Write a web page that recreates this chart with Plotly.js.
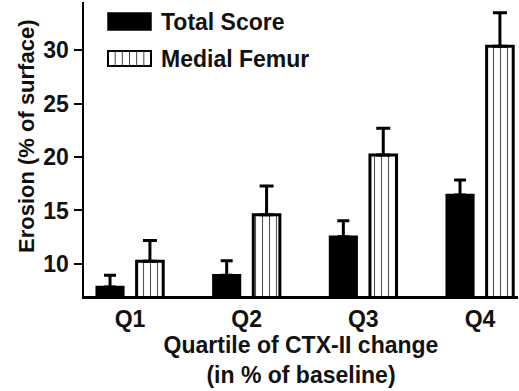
<!DOCTYPE html>
<html>
<head>
<meta charset="utf-8">
<script src="https://cdn.plot.ly/plotly-3.0.1.min.js"></script>
<style>html,body{margin:0;padding:0;background:#fff;}#chart{width:519px;height:391px;}</style>
</head>
<body>
<div id="chart"></div>
<script>
const categories = ['Q1', 'Q2', 'Q3', 'Q4'];
const seriesNames = ['Total Score', 'Medial Femur'];
const totalScore = [7.85, 8.95, 12.55, 16.45];
const totalErr = [1.1, 1.35, 1.5, 1.4];
const medialFemur = [10.25, 14.6, 20.2, 30.35];
const medialErr = [1.95, 2.7, 2.5, 3.15];
const yTicks = [10, 15, 20, 25, 30];
const xTitle = 'Quartile of CTX-II change<br>(in % of baseline)';
const yTitle = 'Erosion (% of surface)';

const FONT = 'Liberation Sans, Arial, Helvetica, sans-serif';
const TXT = '#111';

const traces = [
  {
    type: 'bar', name: seriesNames[0], x: categories, y: totalScore,
    width: 0.228, offset: -0.285, showlegend: false,
    marker: {color: '#000', line: {color: '#000', width: 2.5}},
    error_y: {type: 'data', array: totalErr, symmetric: false, arrayminus: [0,0,0,0], color: '#000', thickness: 3, width: 6}
  },
  {
    type: 'bar', name: seriesNames[1], x: categories, y: medialFemur,
    width: 0.228, offset: 0.057, showlegend: false,
    marker: {color: '#fff', line: {color: '#000', width: 3},
      pattern: {shape: '|', size: 7, solidity: 0.16, fgcolor: '#555', bgcolor: '#fff'}},
    error_y: {type: 'data', array: medialErr, symmetric: false, arrayminus: [0,0,0,0], color: '#000', thickness: 3, width: 7}
  }
];

const W = 519, H = 391, ml = 84, mr = 1, mt = 2, mb = 95;
const pw = W - ml - mr, ph = H - mt - mb;
const px = x => (x - ml) / pw;
const py = y => 1 - (y - mt) / ph;

const shapes = [
  {type: 'rect', xref: 'paper', yref: 'paper', x0: px(108), x1: px(151), y0: py(30), y1: py(13), fillcolor: '#000', line: {color: '#000', width: 1.5}},
  {type: 'rect', xref: 'paper', yref: 'paper', x0: px(108), x1: px(151), y0: py(66), y1: py(51), fillcolor: '#fff', line: {color: '#000', width: 2}}
];
for (let i = 1; i <= 5; i++) {
  const xx = 108 + i * 43 / 6;
  shapes.push({type: 'line', xref: 'paper', yref: 'paper', x0: px(xx), x1: px(xx), y0: py(66), y1: py(51), line: {color: '#444', width: 1}});
}

const annotations = [
  {xref: 'paper', yref: 'paper', x: px(159), y: py(21.5), xanchor: 'left', yanchor: 'middle', showarrow: false,
   text: seriesNames[0], font: {family: FONT, size: 23, weight: 'bold', color: TXT}},
  {xref: 'paper', yref: 'paper', x: px(159), y: py(58.5), xanchor: 'left', yanchor: 'middle', showarrow: false,
   text: seriesNames[1], font: {family: FONT, size: 23, weight: 'bold', color: TXT}},
  {xref: 'paper', yref: 'paper', x: px(26), y: py(137), xanchor: 'center', yanchor: 'middle', showarrow: false,
   textangle: -90, text: yTitle, font: {family: FONT, size: 22, weight: 'bold', color: TXT}}
];

const layout = {
  width: W, height: H,
  margin: {l: ml, r: mr, t: mt, b: mb, pad: 0},
  paper_bgcolor: '#fff', plot_bgcolor: '#fff',
  barmode: 'group',
  showlegend: false,
  font: {family: FONT, size: 23, weight: 'bold', color: TXT},
  xaxis: {
    type: 'category', range: [-0.394, 3.326],
    showline: true, linecolor: '#000', linewidth: 2.5,
    ticks: '', showgrid: false, zeroline: false,
    ticklabelstandoff: 1,
    tickfont: {family: FONT, size: 23, weight: 'bold', color: TXT},
    title: {text: xTitle, standoff: 2,
      font: {family: FONT, size: 23, weight: 'bold', color: TXT}}
  },
  yaxis: {
    range: [7, 34.5], tickvals: yTicks, ticktext: yTicks.map(String),
    showline: true, linecolor: '#000', linewidth: 2.5,
    ticks: 'outside', ticklen: 8, tickwidth: 2, tickcolor: '#000',
    showgrid: false, zeroline: false,
    tickfont: {family: FONT, size: 23, weight: 'bold', color: TXT}
  },
  shapes: shapes,
  annotations: annotations
};

Plotly.newPlot('chart', traces, layout, {displayModeBar: false, staticPlot: true});
</script>
</body>
</html>
